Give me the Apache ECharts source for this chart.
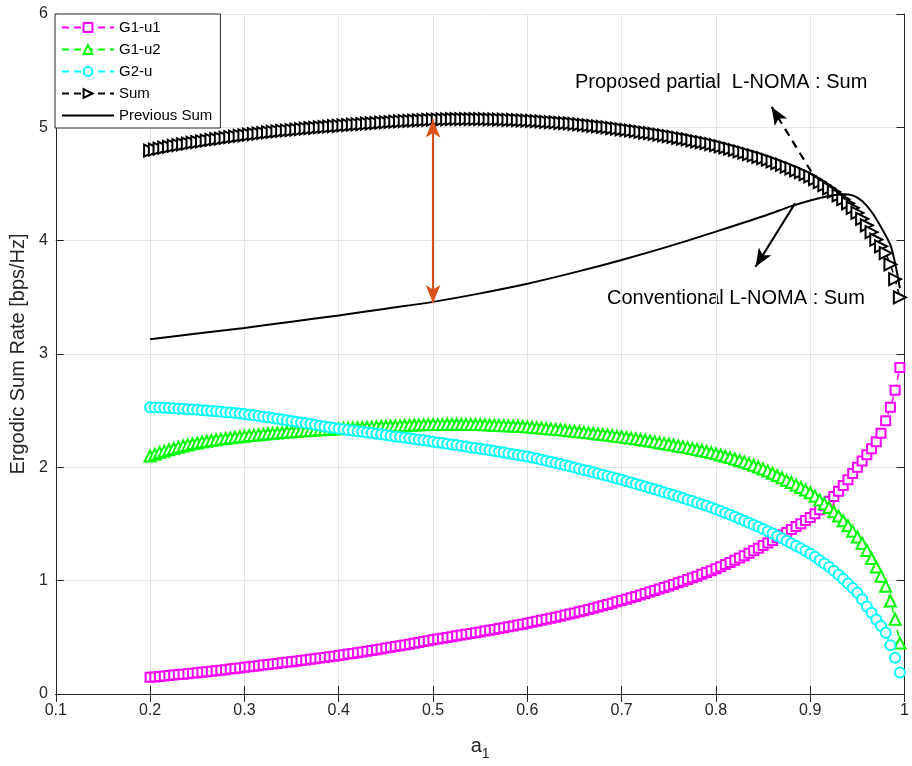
<!DOCTYPE html>
<html>
<head>
<meta charset="utf-8">
<script src="https://cdn.jsdelivr.net/npm/echarts@6/dist/echarts.min.js"></script>
<style>
html,body{margin:0;padding:0;background:#fff;}
#chart{width:912px;height:766px;}
</style>
</head>
<body>
<div id="chart"></div>
<script>
// ---- data ----
var aValues = [
0.200,0.205,0.210,0.215,0.220,0.225,0.230,0.235,0.240,0.245,
0.250,0.255,0.260,0.265,0.270,0.275,0.280,0.285,0.290,0.295,
0.300,0.305,0.310,0.315,0.320,0.325,0.330,0.335,0.340,0.345,
0.350,0.355,0.360,0.365,0.370,0.375,0.380,0.385,0.390,0.395,
0.400,0.405,0.410,0.415,0.420,0.425,0.430,0.435,0.440,0.445,
0.450,0.455,0.460,0.465,0.470,0.475,0.480,0.485,0.490,0.495,
0.500,0.505,0.510,0.515,0.520,0.525,0.530,0.535,0.540,0.545,
0.550,0.555,0.560,0.565,0.570,0.575,0.580,0.585,0.590,0.595,
0.600,0.605,0.610,0.615,0.620,0.625,0.630,0.635,0.640,0.645,
0.650,0.655,0.660,0.665,0.670,0.675,0.680,0.685,0.690,0.695,
0.700,0.705,0.710,0.715,0.720,0.725,0.730,0.735,0.740,0.745,
0.750,0.755,0.760,0.765,0.770,0.775,0.780,0.785,0.790,0.795,
0.800,0.805,0.810,0.815,0.820,0.825,0.830,0.835,0.840,0.845,
0.850,0.855,0.860,0.865,0.870,0.875,0.880,0.885,0.890,0.895,
0.900,0.905,0.910,0.915,0.920,0.925,0.930,0.935,0.940,0.945,
0.950,0.955,0.960,0.965,0.970,0.975,0.980,0.985,0.990,0.995];

var g1u1 = [
0.148,0.151,0.155,0.159,0.163,0.167,0.171,0.175,0.179,0.183,
0.187,0.191,0.196,0.200,0.205,0.210,0.215,0.220,0.225,0.230,
0.235,0.240,0.245,0.250,0.255,0.260,0.265,0.270,0.275,0.280,
0.285,0.290,0.296,0.301,0.307,0.312,0.318,0.323,0.328,0.334,
0.340,0.346,0.352,0.358,0.365,0.371,0.378,0.384,0.391,0.398,
0.405,0.412,0.419,0.426,0.433,0.440,0.448,0.455,0.463,0.470,
0.478,0.485,0.492,0.499,0.506,0.513,0.520,0.527,0.534,0.541,
0.548,0.555,0.563,0.570,0.578,0.585,0.593,0.600,0.608,0.616,
0.624,0.632,0.641,0.650,0.659,0.668,0.677,0.686,0.696,0.705,
0.715,0.725,0.735,0.745,0.756,0.767,0.778,0.789,0.801,0.813,
0.825,0.837,0.849,0.861,0.874,0.887,0.900,0.913,0.926,0.939,
0.953,0.967,0.981,0.995,1.010,1.025,1.040,1.056,1.072,1.088,
1.105,1.123,1.142,1.161,1.180,1.200,1.220,1.241,1.263,1.286,
1.310,1.332,1.355,1.378,1.402,1.426,1.451,1.477,1.503,1.530,
1.558,1.590,1.625,1.661,1.700,1.743,1.790,1.839,1.890,1.945,
2.000,2.055,2.110,2.165,2.226,2.300,2.410,2.530,2.680,2.880];

var g1u2 = [
2.100,2.116,2.130,2.143,2.155,2.167,2.178,2.188,2.198,2.207,
2.215,2.223,2.230,2.237,2.243,2.249,2.255,2.260,2.265,2.270,
2.275,2.280,2.284,2.288,2.292,2.296,2.300,2.304,2.307,2.311,
2.314,2.317,2.320,2.323,2.326,2.329,2.331,2.334,2.336,2.339,
2.341,2.344,2.346,2.348,2.350,2.352,2.354,2.356,2.358,2.360,
2.362,2.364,2.366,2.368,2.370,2.372,2.373,2.375,2.376,2.377,
2.378,2.379,2.379,2.380,2.380,2.380,2.380,2.380,2.379,2.378,
2.377,2.376,2.374,2.372,2.370,2.368,2.366,2.364,2.362,2.360,
2.357,2.354,2.350,2.347,2.343,2.339,2.335,2.331,2.327,2.323,
2.318,2.314,2.309,2.305,2.300,2.295,2.290,2.285,2.280,2.275,
2.270,2.264,2.258,2.252,2.245,2.239,2.232,2.225,2.218,2.211,
2.204,2.197,2.189,2.182,2.174,2.166,2.158,2.149,2.140,2.130,
2.120,2.109,2.098,2.086,2.074,2.061,2.048,2.033,2.018,2.002,
1.985,1.967,1.948,1.928,1.908,1.887,1.866,1.844,1.822,1.799,
1.776,1.745,1.712,1.679,1.645,1.608,1.570,1.529,1.485,1.435,
1.385,1.330,1.267,1.195,1.120,1.040,0.950,0.820,0.660,0.450];

var g2u = [
2.530,2.529,2.527,2.525,2.523,2.521,2.518,2.516,2.513,2.510,
2.507,2.504,2.501,2.498,2.494,2.491,2.487,2.483,2.479,2.475,
2.470,2.465,2.459,2.453,2.447,2.441,2.435,2.429,2.422,2.416,
2.409,2.403,2.396,2.389,2.382,2.375,2.368,2.361,2.354,2.347,
2.340,2.335,2.329,2.324,2.318,2.313,2.307,2.302,2.296,2.291,
2.285,2.279,2.273,2.268,2.262,2.256,2.250,2.244,2.238,2.232,
2.226,2.220,2.214,2.208,2.202,2.196,2.189,2.183,2.176,2.170,
2.163,2.157,2.150,2.144,2.137,2.130,2.123,2.116,2.109,2.102,
2.095,2.086,2.077,2.068,2.058,2.049,2.039,2.029,2.019,2.009,
1.998,1.988,1.977,1.967,1.956,1.945,1.934,1.923,1.912,1.901,
1.890,1.878,1.866,1.854,1.842,1.830,1.818,1.806,1.793,1.781,
1.768,1.755,1.742,1.729,1.715,1.702,1.688,1.674,1.660,1.645,
1.630,1.614,1.598,1.581,1.564,1.547,1.529,1.511,1.493,1.475,
1.456,1.436,1.416,1.395,1.374,1.352,1.330,1.308,1.285,1.262,
1.238,1.210,1.181,1.151,1.120,1.087,1.052,1.015,0.976,0.935,
0.893,0.835,0.773,0.716,0.657,0.600,0.540,0.430,0.320,0.190];

var sumRate = [
4.795,4.804,4.812,4.820,4.828,4.836,4.843,4.850,4.857,4.864,
4.870,4.877,4.883,4.889,4.895,4.901,4.907,4.913,4.918,4.924,
4.930,4.935,4.940,4.945,4.950,4.955,4.959,4.964,4.968,4.972,
4.976,4.980,4.984,4.988,4.992,4.996,4.999,5.003,5.006,5.010,
5.013,5.017,5.020,5.023,5.026,5.029,5.032,5.035,5.038,5.041,
5.044,5.047,5.050,5.053,5.055,5.058,5.060,5.062,5.064,5.066,
5.068,5.069,5.070,5.071,5.072,5.073,5.073,5.073,5.073,5.073,
5.072,5.072,5.071,5.070,5.069,5.068,5.066,5.065,5.063,5.061,
5.059,5.057,5.054,5.052,5.049,5.046,5.043,5.040,5.037,5.034,
5.030,5.026,5.022,5.018,5.013,5.009,5.004,4.999,4.994,4.989,
4.983,4.978,4.972,4.966,4.960,4.954,4.948,4.942,4.935,4.929,
4.922,4.915,4.908,4.901,4.893,4.885,4.877,4.869,4.860,4.851,
4.842,4.832,4.822,4.811,4.800,4.788,4.776,4.764,4.752,4.740,
4.728,4.714,4.700,4.685,4.670,4.654,4.638,4.621,4.604,4.586,
4.568,4.543,4.517,4.490,4.462,4.432,4.400,4.366,4.330,4.290,
4.245,4.193,4.135,4.075,4.010,3.950,3.890,3.790,3.660,3.500];

var prevA   = [0.20,0.25,0.30,0.35,0.40,0.45,0.50,0.55,0.60,0.65,0.70,0.75,0.80,0.85,0.88,0.90,0.92,0.935,0.945,0.955,0.965,0.975,0.985,0.99,0.995];
var prevSum = [3.13,3.18,3.23,3.285,3.34,3.40,3.46,3.535,3.62,3.72,3.83,3.95,4.08,4.215,4.305,4.355,4.395,4.41,4.40,4.35,4.255,4.12,3.96,3.80,3.58];

var xTicks = [0.1,0.2,0.3,0.4,0.5,0.6,0.7,0.8,0.9,1];
var yTicks = [0,1,2,3,4,5,6];

var seriesNames = ['G1-u1','G1-u2','G2-u','Sum','Previous Sum'];

// annotation arrows (data coordinates)
var gapArrow      = [[0.5, 5.07], [0.5, 3.45]];
var proposedArrow = [[0.901, 4.61], [0.859, 5.18]];
var convArrow     = [[0.884, 4.33], [0.842, 3.77]];

function pairs(xs, ys){ return xs.map(function(x,i){ return [x, ys[i]]; }); }

var FONT = 'Liberation Sans, Arial, Helvetica, sans-serif';
var chart = echarts.init(document.getElementById('chart'));

function dataSeries(name, ys, color, symbol, size, rotate){
  return {
    name: name, type: 'line', data: pairs(aValues, ys),
    symbol: symbol, symbolSize: size, symbolRotate: rotate || 0,
    showAllSymbol: true,
    lineStyle: {color: color, width: 1.5, type: [7,5]},
    itemStyle: {color: color, borderColor: color, borderWidth: 1.8},
    emphasis: {disabled: true}, z: 3
  };
}

function arrowSeries(id, pts, color, dashed, symbols){
  return {
    id: id, type: 'line', data: [], silent: true,
    markLine: {
      silent: true, animation: false,
      symbol: symbols, symbolSize: [11, 18],
      label: {show: false},
      lineStyle: {color: color, width: 2.2, type: dashed ? [8,6] : 'solid'},
      emphasis: {disabled: true},
      data: [[{coord: pts[0]}, {coord: pts[1]}]]
    }
  };
}

var legendData = seriesNames.map(function(n){
  return n === 'Previous Sum' ? {name: n, itemStyle: {opacity: 0}} : {name: n};
});

var option = {
  animation: false,
  backgroundColor: '#fff',
  textStyle: {fontFamily: FONT},
  grid: {left: 52, right: 1, top: 14, bottom: 64, containLabel: false},
  legend: {
    data: legendData, orient: 'vertical', left: 55, top: 14,
    itemWidth: 52, itemHeight: 11, itemGap: 7,
    padding: [6, 8, 5, 6],
    backgroundColor: '#fff', borderColor: '#262626', borderWidth: 1, borderRadius: 0,
    textStyle: {fontSize: 15, color: '#000', fontFamily: FONT},
    selectedMode: false
  },
  xAxis: [{
    type: 'value', min: 0.1, max: 1, interval: 0.1,
    name: '{a|a}{s|1}', nameLocation: 'middle', nameGap: 37,
    nameTextStyle: {rich: {a: {fontSize: 20, fontFamily: FONT, color: '#262626'},
                           s: {fontSize: 14, fontFamily: FONT, color: '#262626', padding: [16,0,0,0]}}},
    axisLine: {show: true, lineStyle: {color: '#262626', width: 1}},
    axisTick: {show: true, inside: true, length: 8, lineStyle: {color: '#262626'}},
    axisLabel: {fontSize: 16, color: '#262626', margin: 9, fontFamily: FONT,
      formatter: function(v){ var r = Math.round(v*10)/10; return xTicks.indexOf(r) >= 0 ? (r === 1 ? '1' : r.toFixed(1)) : ''; }},
    splitLine: {show: true, lineStyle: {color: '#e3e3e3', width: 1}}
  },{
    type: 'value', min: 0.1, max: 1, interval: 0.1, position: 'top',
    axisLine: {show: true, lineStyle: {color: '#262626', width: 1}},
    axisTick: {show: true, inside: true, length: 8, lineStyle: {color: '#262626'}},
    axisLabel: {show: false}, splitLine: {show: false}
  }],
  yAxis: [{
    type: 'value', min: 0, max: 6, interval: 1,
    name: 'Ergodic Sum Rate [bps/Hz]', nameLocation: 'middle', nameGap: 26,
    nameTextStyle: {fontSize: 20, color: '#262626', fontFamily: FONT},
    axisLine: {show: true, lineStyle: {color: '#262626', width: 1}},
    axisTick: {show: true, inside: true, length: 8, lineStyle: {color: '#262626'}},
    axisLabel: {fontSize: 16, color: '#262626', margin: 8, fontFamily: FONT},
    splitLine: {show: true, lineStyle: {color: '#e3e3e3', width: 1}}
  },{
    type: 'value', min: 0, max: 6, interval: 1, position: 'right',
    axisLine: {show: true, lineStyle: {color: '#262626', width: 1}},
    axisTick: {show: true, inside: true, length: 8, lineStyle: {color: '#262626'}},
    axisLabel: {show: false}, splitLine: {show: false}
  }],
  series: [
    dataSeries('G1-u1', g1u1, '#ff00ff', 'emptyRect', 9),
    dataSeries('G1-u2', g1u2, '#00ff00', 'emptyTriangle', 11),
    dataSeries('G2-u', g2u, '#00ffff', 'emptyCircle', 10),
    dataSeries('Sum', sumRate, '#000000', 'emptyTriangle', 12, -90),
    {
      name: 'Previous Sum', type: 'line', data: pairs(prevA, prevSum),
      symbol: 'none', smooth: 0.3,
      lineStyle: {color: '#000', width: 2, type: 'solid'},
      itemStyle: {color: '#000'}, emphasis: {disabled: true}, z: 4
    },
    arrowSeries('gap', gapArrow, '#d95319', false, ['arrow','arrow']),
    arrowSeries('prop', proposedArrow, '#000', true, ['none','arrow']),
    arrowSeries('conv', convArrow, '#000', false, ['none','arrow'])
  ],
  graphic: [
    {type: 'text', left: 575, top: 72, silent: true,
     style: {text: 'Proposed partial  L-NOMA : Sum', font: '20px ' + FONT, fill: '#000'}},
    {type: 'text', left: 607, top: 288, silent: true,
     style: {text: 'Conventional L-NOMA : Sum', font: '20px ' + FONT, fill: '#000'}}
  ]
};
chart.setOption(option);
</script>
</body>
</html>
